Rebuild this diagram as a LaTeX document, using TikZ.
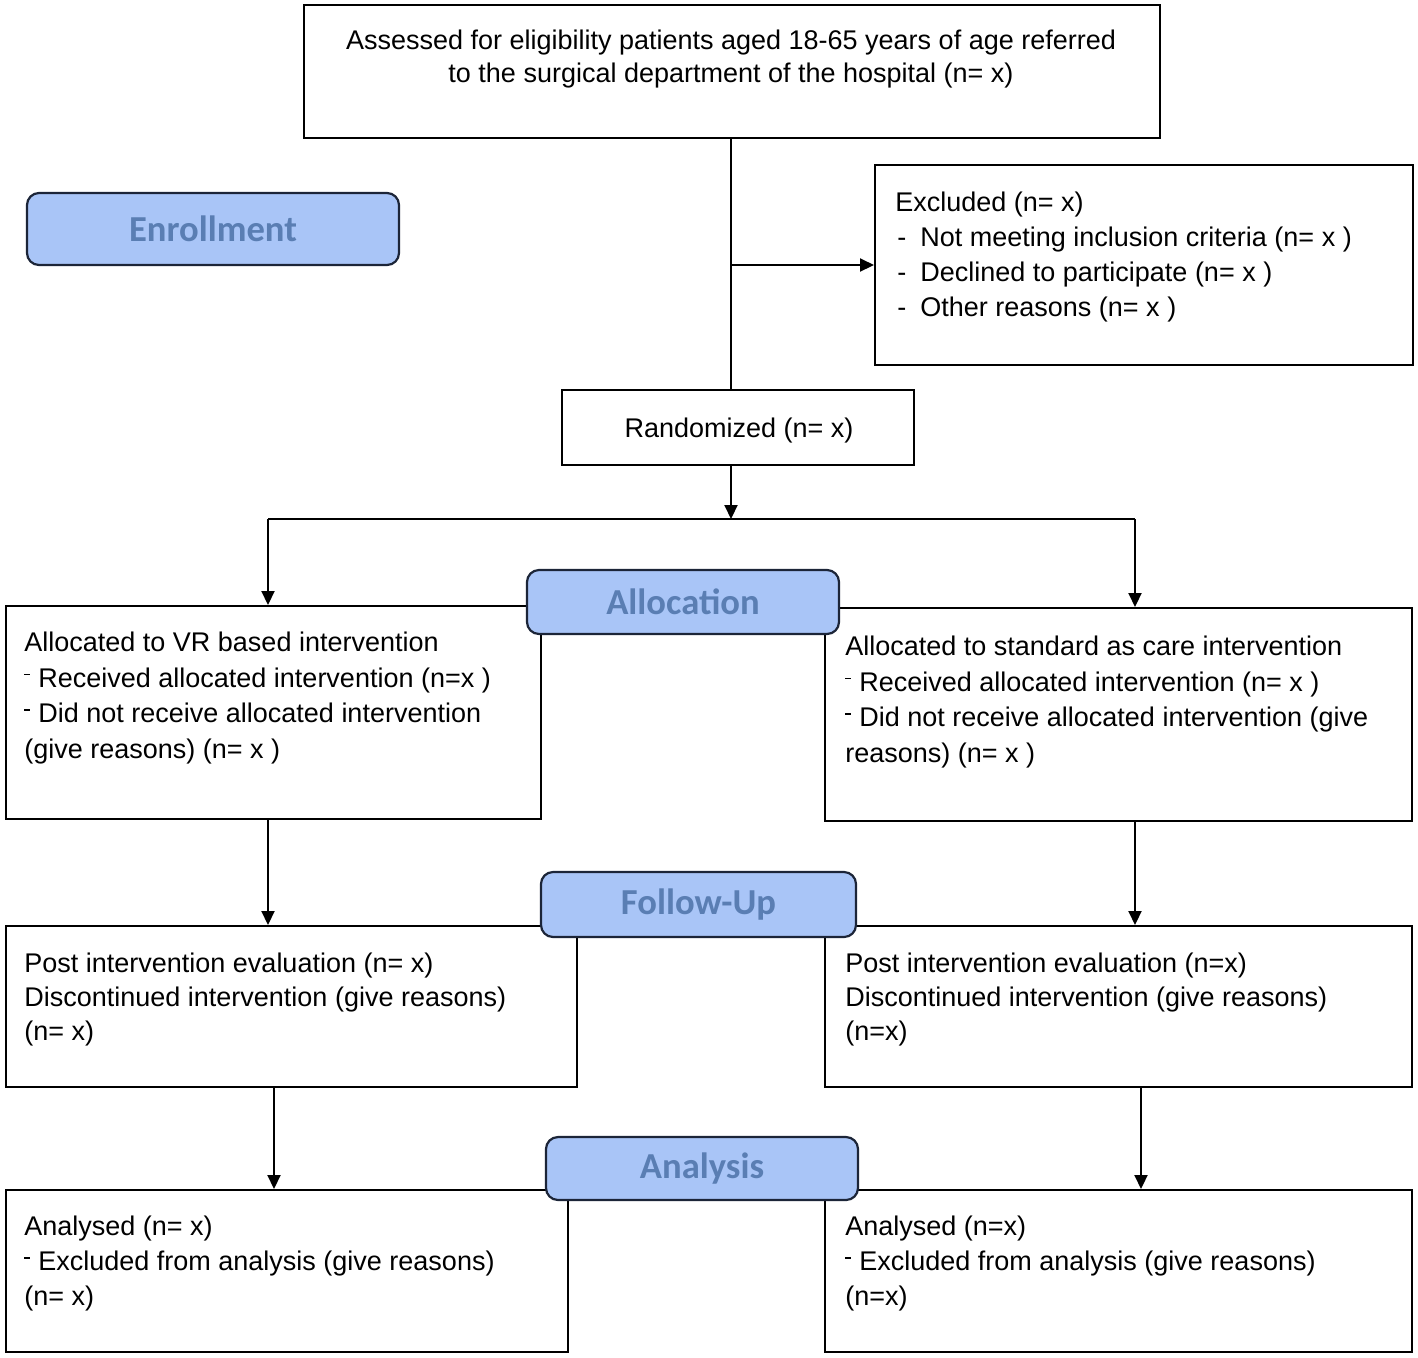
\documentclass[tikz,border=0pt]{standalone}
\usepackage{fontspec}
\setmainfont{Liberation Sans}
\newfontfamily\headfont{Carlito}
\usetikzlibrary{arrows.meta,fit}
\definecolor{headfill}{HTML}{A9C5F7}
\definecolor{headtext}{HTML}{5A7EB3}
\definecolor{headline}{HTML}{1C2538}
\newcommand{\dsh}{\makebox[7pt][l]{\rule[6pt]{3pt}{0.8pt}}}
\newcommand{\xdsh}{\hspace{1pt}\makebox[11.5pt][l]{-}}
\begin{document}
\begin{tikzpicture}[x=0.5pt,y=-0.5pt,
  box/.style={draw=black, line width=1pt, inner sep=0pt, fill=white},
  head/.style={draw=headline, line width=1.1pt, rounded corners=6pt, fill=headfill, inner sep=0pt,
    font=\headfont\bfseries\fontsize{18.3}{20}\selectfont, text=headtext},
  txt/.style={inner sep=0pt, align=left, anchor=north west, font=\fontsize{13.5}{17.5}\selectfont},
  arr/.style={-{Triangle[length=7pt,width=6.5pt]}, line width=1pt},
  ln/.style={line width=1pt}]
\useasboundingbox (0,0) rectangle (1418,1357);
\fill[white] (0,0) rectangle (1418,1357);

% boxes
\node[box, fit={(304,5) (1160,138)}] (top) {};
\node[box, fit={(875,165) (1413,365)}] (excl) {};
\node[box, fit={(562,390) (914,465)}] (rand) {};
\node[box, fit={(6,606) (541,819)}] (allocL) {};
\node[box, fit={(825,608) (1412,821)}] (allocR) {};
\node[box, fit={(6,926) (577,1087)}] (fuL) {};
\node[box, fit={(825,926) (1412,1087)}] (fuR) {};
\node[box, fit={(6,1190) (568,1352)}] (anL) {};
\node[box, fit={(825,1190) (1412,1352)}] (anR) {};

% connector coordinates
\coordinate (trunk) at (731,265);
\coordinate (split) at (731,519);
\coordinate (sl) at (268,519);
\coordinate (sr) at (1135,519);
\coordinate (cL1) at (268,0);
\coordinate (cR1) at (1135,0);
\coordinate (cL2) at (274,0);
\coordinate (cR2) at (1141,0);

\draw[ln] (top.south -| trunk) -- (rand.north -| trunk);
\draw[arr] (trunk) -- (excl.west |- trunk);
\draw[arr] (rand.south -| split) -- (split);
\draw[ln] (sl) -- (sr);
\draw[arr] (sl) -- (allocL.north -| sl);
\draw[arr] (sr) -- (allocR.north -| sr);
\draw[arr] (allocL.south -| cL1) -- (fuL.north -| cL1);
\draw[arr] (allocR.south -| cR1) -- (fuR.north -| cR1);
\draw[arr] (fuL.south -| cL2) -- (anL.north -| cL2);
\draw[arr] (fuR.south -| cR2) -- (anR.north -| cR2);

% texts
\node[txt, anchor=north, align=center, font=\fontsize{13.5}{16.5}\selectfont] (toptext) at (731,30)
  {Assessed for eligibility patients aged 18-65 years of age referred\\to the surgical department of the hospital (n= x)};
\node[txt] (excltext) at (895,192)
  {Excluded (n= x)\\
   \xdsh Not meeting inclusion criteria (n= x )\\
   \xdsh Declined to participate (n= x )\\
   \xdsh Other reasons (n= x )};
\node[txt, anchor=base] (randtext) at (739,437) {Randomized (n= x)};
\node[txt, font=\fontsize{13.5}{17.75}\selectfont] (allocLtext) at (24,632)
  {Allocated to VR based intervention\\
   \dsh Received allocated intervention (n=x )\\
   \dsh Did not receive allocated intervention\\
   (give reasons) (n= x )};
\node[txt, font=\fontsize{13.5}{17.75}\selectfont] (allocRtext) at (845,636)
  {Allocated to standard as care intervention\\
   \dsh Received allocated intervention (n= x )\\
   \dsh Did not receive allocated intervention (give\\
   reasons) (n= x )};
\node[txt, font=\fontsize{13.5}{16.8}\selectfont] (fuLtext) at (24,953)
  {Post intervention evaluation (n= x)\\
   Discontinued intervention (give reasons)\\
   (n= x)};
\node[txt, font=\fontsize{13.5}{16.8}\selectfont] (fuRtext) at (845,953)
  {Post intervention evaluation (n=x)\\
   Discontinued intervention (give reasons)\\
   (n=x)};
\node[txt] (anLtext) at (24,1216)
  {Analysed (n= x)\\
   \dsh Excluded from analysis (give reasons)\\
   (n= x)};
\node[txt] (anRtext) at (845,1216)
  {Analysed (n=x)\\
   \dsh Excluded from analysis (give reasons)\\
   (n=x)};

% stage headings
\node[head, minimum width=186pt, minimum height=36pt] (enroll) at (213,229) {Enrollment};
\node[head, minimum width=156pt, minimum height=32pt] (alloc) at (683,602) {Allocation};
\node[head, minimum width=157.5pt, minimum height=32.5pt] (follow) at (698.5,904.5) {Follow-Up};
\node[head, minimum width=156pt, minimum height=31.5pt] (analysis) at (702,1168.5) {Analysis};
\end{tikzpicture}
\end{document}
